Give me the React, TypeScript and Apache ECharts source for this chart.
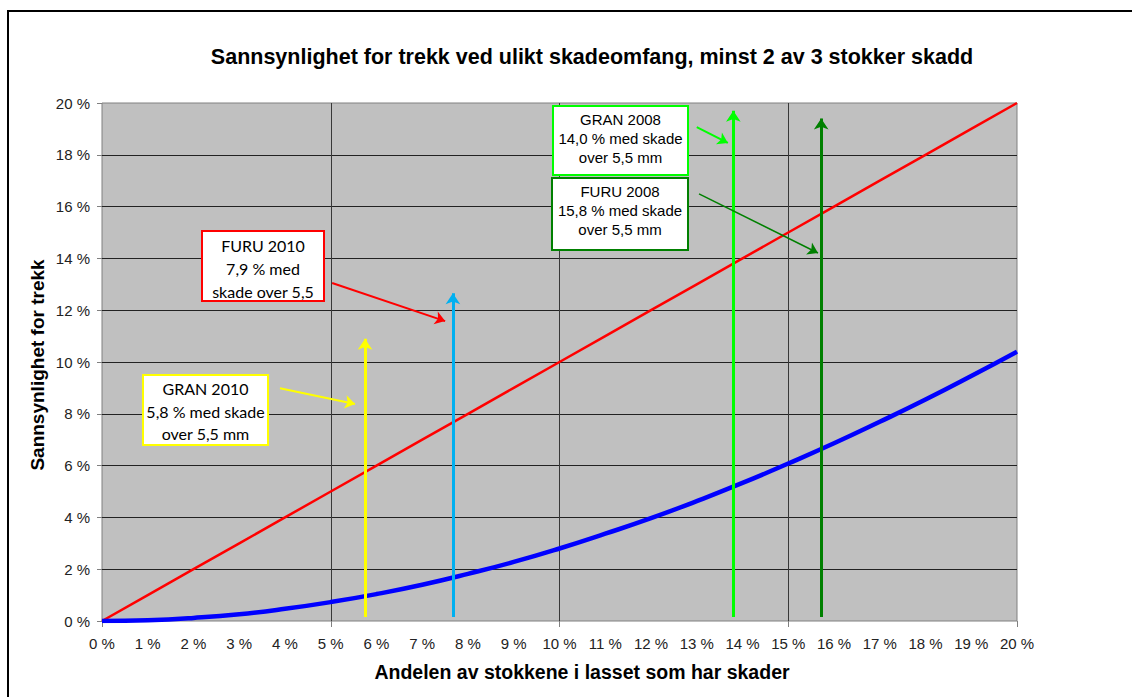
import React, { useEffect, useRef } from "react";
import * as echarts from "echarts";

const xValues = [0, 1, 2, 3, 4, 5, 6, 7, 8, 9, 10, 11, 12, 13, 14, 15, 16, 17, 18, 19, 20];
const redValues = [0, 1, 2, 3, 4, 5, 6, 7, 8, 9, 10, 11, 12, 13, 14, 15, 16, 17, 18, 19, 20];
const blueValues = [0, 0.03, 0.12, 0.26, 0.47, 0.73, 1.04, 1.4, 1.82, 2.28, 2.8, 3.37, 3.97, 4.63, 5.33, 6.08, 6.86, 7.69, 8.55, 9.46, 10.4];

const vArrows = [
  { name: "GRAN 2010", x: 5.75, y0: 0.15, y1: 10.9, color: "#ffff00" },
  { name: "FURU 2010", x: 7.67, y0: 0.15, y1: 12.65, color: "#00b0f0" },
  { name: "GRAN 2008", x: 13.8, y0: 0.15, y1: 19.7, color: "#00ff00" },
  { name: "FURU 2008", x: 15.72, y0: 0.15, y1: 19.4, color: "#008000" },
];

const pointers = [
  { from: [5.03, 13.05], to: [7.5, 11.58], color: "#ff0000", width: 2 },
  { from: [3.89, 8.99], to: [5.53, 8.38], color: "#ffff00", width: 2 },
  { from: [13.0, 19.07], to: [13.68, 18.46], color: "#00ff00", width: 2 },
  { from: [13.05, 16.49], to: [15.65, 14.21], color: "#008000", width: 1.5 },
];

const boxes = [
  { x: 202, y: 231, w: 122, h: 70, color: "#ff0000", font: "Lato", size: 16, lines: ["FURU 2010", "7,9 % med", "skade over 5,5"], ys: [245, 268, 291] },
  { x: 143, y: 375, w: 125, h: 70, color: "#ffff00", font: "Lato", size: 16, lines: ["GRAN 2010", "5,8 % med skade", "over 5,5 mm"], ys: [388, 411, 433] },
  { x: 553, y: 106, w: 135, h: 69, color: "#00ff00", font: "Liberation Sans", size: 15, lines: ["GRAN 2008", "14,0 % med skade", "over 5,5 mm"], ys: [119, 138, 157] },
  { x: 552, y: 178, w: 136, h: 72, color: "#008000", font: "Liberation Sans", size: 15, lines: ["FURU 2008", "15,8 % med skade", "over 5,5 mm"], ys: [191, 210, 229] },
];

export default function App() {
  const ref = useRef<HTMLDivElement>(null);
  useEffect(() => {
    document.body.style.margin = "0";
    const chart = echarts.init(ref.current!, null, { renderer: "svg" });
    const graphics: any[] = [
      { type: "rect", shape: { x: 8, y: 11, width: 1130, height: 700 }, style: { fill: "none", stroke: "#000", lineWidth: 2 }, z: 100 },
      { type: "text", x: 592, y: 57, style: { text: "Sannsynlighet for trekk ved ulikt skadeomfang, minst 2 av 3 stokker skadd", font: "bold 21.5px 'Liberation Sans', Arial", fill: "#000", align: "center", verticalAlign: "middle" }, z: 100 },
      { type: "text", x: 582, y: 672, style: { text: "Andelen av stokkene i lasset som har skader", font: "bold 19.5px 'Liberation Sans', Arial", fill: "#000", align: "center", verticalAlign: "middle" }, z: 100 },
      { type: "text", x: 37, y: 365, rotation: Math.PI / 2, style: { text: "Sannsynlighet for trekk", font: "bold 19px 'Liberation Sans', Arial", fill: "#000", align: "center", verticalAlign: "middle" }, z: 100 },
    ];
    boxes.forEach((b) => {
      graphics.push({ type: "rect", shape: { x: b.x, y: b.y, width: b.w, height: b.h }, style: { fill: "#fff", stroke: b.color, lineWidth: 2 }, z: 100 });
      b.lines.forEach((t, i) => {
        graphics.push({ type: "text", x: b.x + b.w / 2, y: b.ys[i], style: { text: t, font: `${b.size}px '${b.font}', sans-serif`, fill: "#000", align: "center", verticalAlign: "middle" }, z: 101 });
      });
    });
    chart.setOption({
      animation: false,
      grid: { left: 102, top: 103, width: 915, height: 518, show: true, backgroundColor: "#c0c0c0", borderColor: "#808080", borderWidth: 1 },
      xAxis: [
        {
          type: "value", min: 0, max: 20, interval: 1, position: "bottom",
          axisLine: { show: false }, axisTick: { show: false },
          axisLabel: { formatter: "{value} %", color: "#222", fontSize: 15, fontFamily: "Liberation Sans", margin: 15 },
          splitLine: { show: false },
        },
        {
          type: "value", min: 0, max: 20, interval: 5, position: "bottom",
          axisLine: { show: false }, axisLabel: { show: false },
          axisTick: { show: true, length: 6, lineStyle: { color: "#808080" } },
          splitLine: { show: true, showMinLine: false, showMaxLine: false, lineStyle: { color: "#383838", width: 1 } },
        },
      ],
      yAxis: {
        type: "value", min: 0, max: 20, interval: 2,
        axisLine: { show: false },
        axisTick: { show: true, length: 5, lineStyle: { color: "#808080" } },
        axisLabel: { formatter: "{value} %", color: "#222", fontSize: 15, fontFamily: "Liberation Sans", margin: 12 },
        splitLine: { show: true, showMinLine: false, showMaxLine: false, lineStyle: { color: "#222", width: 1 } },
      },
      graphic: graphics,
      series: [
        { type: "line", xAxisIndex: 0, data: xValues.map((x, i) => [x, redValues[i]]), symbol: "none", lineStyle: { color: "#ff0000", width: 2.5 }, z: 3 },
        { type: "line", xAxisIndex: 0, data: xValues.map((x, i) => [x, blueValues[i]]), symbol: "none", smooth: true, lineStyle: { color: "#0000ff", width: 4.5 }, z: 3 },
        ...vArrows.map((a) => ({
          type: "lines", coordinateSystem: "cartesian2d", xAxisIndex: 0, z: 5,
          symbol: ["none", "arrow"], symbolSize: 11,
          lineStyle: { color: a.color, width: 3, opacity: 1 },
          data: [{ coords: [[a.x, a.y0], [a.x, a.y1]] }],
        })),
        ...pointers.map((p) => ({
          type: "lines", coordinateSystem: "cartesian2d", xAxisIndex: 0, z: 6,
          symbol: ["none", "arrow"], symbolSize: 10,
          lineStyle: { color: p.color, width: p.width, opacity: 1 },
          data: [{ coords: [p.from, p.to] }],
        })),
      ],
    });
    return () => chart.dispose();
  }, []);
  return <div ref={ref} style={{ width: 1132, height: 697 }} />;
}
